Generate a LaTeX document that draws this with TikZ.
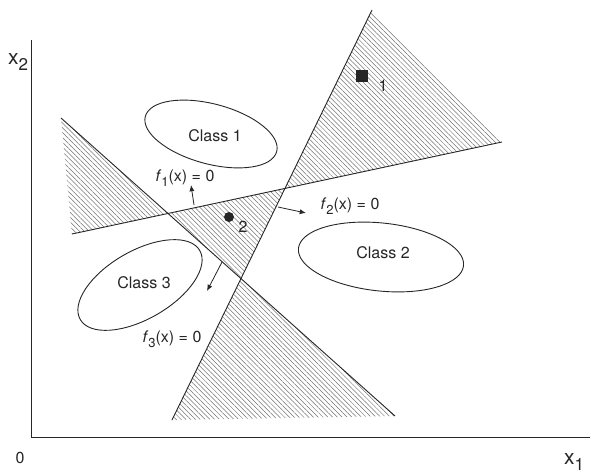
\documentclass[tikz,border=0pt]{standalone}
\usepackage{fontspec}
\setmainfont{TeX Gyre Heros}
\usetikzlibrary{arrows.meta,shapes.geometric,patterns.meta}
\newcommand{\lowidx}[1]{\raisebox{-0.55ex}{\fontsize{13}{13}\selectfont #1}}
\newcommand{\axidx}[1]{\raisebox{-0.6ex}{\fontsize{17}{17}\selectfont #1}}

\begin{document}
\begin{tikzpicture}[
  x=1pt, y=-1pt,
  cls/.style={draw=black!85, ellipse, line width=0.9pt, inner sep=0pt},
  lbl/.style={font=\fontsize{16}{18}\selectfont, text=black!85, inner sep=1pt},
  axlbl/.style={font=\fontsize{21}{22}\selectfont, text=black!85, inner sep=1pt},
  bound/.style={draw=black!85, line width=0.9pt},
  hatch/.style={pattern={Lines[angle=-45,distance=3.4pt,line width=0.5pt]}, pattern color=black!55},
  arrow/.style={-{Latex[length=2.2mm,width=1.8mm]}, draw=black!85, line width=0.8pt}
]
\useasboundingbox (0,0) rectangle (590,474);

% decision lines
\coordinate (a1) at (72,234);
\coordinate (b1) at (502,142);
\coordinate (a2) at (172,420);
\coordinate (b2) at (372,10);
\coordinate (a3) at (61,118);
\coordinate (b3) at (395,416);
\coordinate (p12) at (intersection of a1--b1 and a2--b2);
\coordinate (p13) at (intersection of a1--b1 and a3--b3);
\coordinate (p23) at (intersection of a2--b2 and a3--b3);

% hatched regions
\fill[hatch] (b2) -- (p12) -- (b1) -- cycle;
\fill[hatch] (a3) -- (p13) -- (a1) -- cycle;
\fill[hatch] (p13) -- (p12) -- (p23) -- cycle;
\fill[hatch] (p23) -- (a2) -- (b3) -- cycle;

\draw[bound] (a1) -- (b1);
\draw[bound] (a2) -- (b2);
\draw[bound] (a3) -- (b3);

% axes
\coordinate (ytop) at (31,40);
\coordinate (o) at (31,437);
\coordinate (xend) at (590,437);
\draw[bound] (ytop) -- (o) -- (xend);
\node[axlbl] (x2) at (18,62) {x\axidx{2}};
\node[axlbl] (x1) at (574,462) {x\axidx{1}};
\node[lbl] (zero) at (20,458) {0};

% classes
\node[cls, minimum width=136pt, minimum height=60pt, rotate=-15] (c1) at (211,134) {};
\node[cls, minimum width=166pt, minimum height=68pt, rotate=-6] (c2) at (381,257) {};
\node[cls, minimum width=138pt, minimum height=68pt, rotate=30] (c3) at (140,285) {};
\node[lbl] (t1) at (215,136) {Class 1};
\node[lbl] (t2) at (383,253) {Class 2};
\node[lbl] (t3) at (144,283) {Class 3};

% samples
\node[fill=black!85, minimum size=12pt, inner sep=0pt] (s1) at (362,76) {};
\node[lbl] (n1) at (383,86) {1};
\node[circle, fill=black!85, minimum size=10pt, inner sep=0pt] (s2) at (229,217) {};
\node[lbl] (n2) at (243,227) {2};

% boundary labels
\node[lbl] (f1) at (185,178) {\textit{f}\lowidx{1}(x) = 0};
\node[lbl] (f2) at (350,206) {\textit{f}\lowidx{2}(x) = 0};
\node[lbl] (f3) at (172,339) {\textit{f}\lowidx{3}(x) = 0};
\coordinate (f1s) at (194,205);
\coordinate (f1e) at (191,185);
\coordinate (f2s) at (278,207);
\coordinate (f2e) at (306,213);
\coordinate (f3s) at (222,262);
\coordinate (f3e) at (207,291);
\draw[arrow] (f1s) -- (f1e);
\draw[arrow] (f2s) -- (f2e);
\draw[arrow] (f3s) -- (f3e);
\end{tikzpicture}
\end{document}
